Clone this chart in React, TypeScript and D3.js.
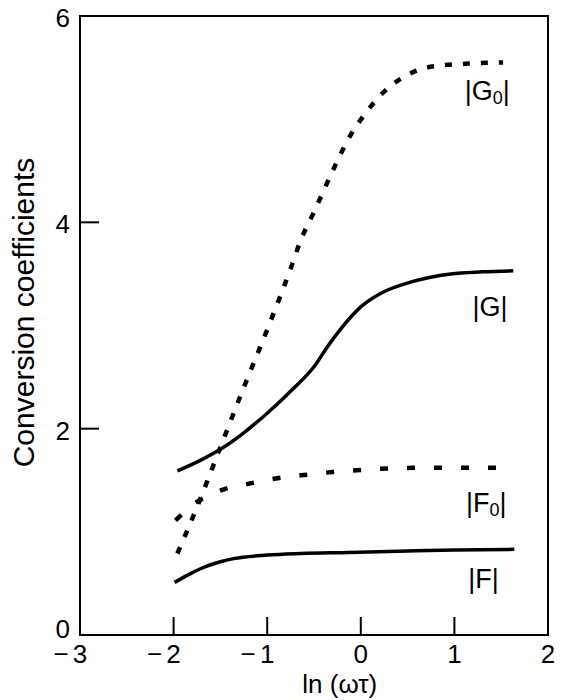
import React from 'react';
import * as d3 from 'd3';

const xF = [-1.99, -1.85, -1.72, -1.5, -1.36, -1.0, -0.64, -0.13, 0.5, 1.0, 1.64];
const yF = [0.51, 0.58, 0.64, 0.71, 0.74, 0.775, 0.79, 0.80, 0.815, 0.825, 0.83];

const xF0 = [-1.98, -1.75, -1.47, -1.18, -0.89, -0.61, -0.3, 0, 0.57, 1.0, 1.48];
const yF0 = [1.11, 1.29, 1.41, 1.47, 1.52, 1.55, 1.58, 1.6, 1.62, 1.62, 1.62];

const xG = [-1.96, -1.72, -1.5, -1.25, -1, -0.72, -0.5, -0.36, -0.22, 0, 0.21, 0.53, 0.96, 1.3, 1.63];
const yG = [1.59, 1.69, 1.8, 1.96, 2.15, 2.39, 2.6, 2.79, 2.96, 3.18, 3.31, 3.42, 3.5, 3.52, 3.53];

const xG0 = [-1.96, -1.75, -1.5, -1.25, -1.0, -0.75, -0.64, -0.5, -0.3, -0.1, 0.02, 0.16, 0.3, 0.46, 0.66, 0.85, 1.2, 1.52];
const yG0 = [0.79, 1.24, 1.82, 2.4, 2.96, 3.55, 3.83, 4.1, 4.5, 4.86, 5.02, 5.18, 5.31, 5.41, 5.49, 5.52, 5.54, 5.55];

const xTicks = [-3, -2, -1, 0, 1, 2];
const yTicks = [0, 2, 4, 6];

const curveLabels = [
  { name: 'G', sub: '0', x: 1.35, y: 5.28 },
  { name: 'G', sub: '', x: 1.38, y: 3.19 },
  { name: 'F', sub: '0', x: 1.34, y: 1.29 },
  { name: 'F', sub: '', x: 1.31, y: 0.55 },
];

const font = '"Liberation Sans", Arial, Helvetica, sans-serif';

const App = () => {
  const margin = { top: 16, right: 24, bottom: 65, left: 80 };
  const width = 572 - margin.left - margin.right;
  const height = 700 - margin.top - margin.bottom;

  const x = d3.scaleLinear().domain([-3, 2]).range([0, width]);
  const y = d3.scaleLinear().domain([0, 6]).range([height, 0]);

  const line = d3.line<[number, number]>()
    .x(d => x(d[0]))
    .y(d => y(d[1]))
    .curve(d3.curveMonotoneX);

  const pairs = (xs: number[], ys: number[]) => xs.map((v, i) => [v, ys[i]] as [number, number]);

  const series = [
    { d: pairs(xF, yF), dash: null, w: 3.5 },
    { d: pairs(xG, yG), dash: null, w: 3.5 },
    { d: pairs(xF0, yF0), dash: '8 19', w: 4.5 },
    { d: pairs(xG0, yG0), dash: '7 11', w: 4.5 },
  ];

  return (
    <svg width={572} height={700} style={{ position: 'absolute', left: 0, top: 0, background: '#fff' }}
      fontFamily={font}>
      <g transform={`translate(${margin.left},${margin.top})`}>
        <rect x={0} y={0} width={width} height={height} fill="none" stroke="#000" strokeWidth={2} />

        {xTicks.filter(t => t > -3 && t < 2).map(t => (
          <line key={'xt' + t} x1={x(t)} x2={x(t)} y1={height} y2={height - 18} stroke="#000" strokeWidth={2} />
        ))}
        {yTicks.filter(t => t > 0 && t < 6).map(t => (
          <line key={'yt' + t} x1={0} x2={19} y1={y(t)} y2={y(t)} stroke="#000" strokeWidth={2} />
        ))}

        {xTicks.map(t => (
          <g key={'xl' + t} fontSize={26}>
            <text x={x(t)} y={height + 28} textAnchor="middle">{Math.abs(t)}</text>
            {t < 0 && <text x={x(t) - 19} y={height + 28} textAnchor="middle">−</text>}
          </g>
        ))}
        {yTicks.map(t => (
          <text key={'yl' + t} x={-10} y={y(t) + (t === 0 ? 3 : 11)} textAnchor="end" fontSize={26}>{t}</text>
        ))}

        <text x={x(0) - 21} y={height + 58} textAnchor="middle" fontSize={26}>ln (ωτ)</text>
        <text transform={`translate(-46,${y(3) - 13}) rotate(-90)`} textAnchor="middle" fontSize={30}>
          Conversion coefficients
        </text>

        {series.map((s, i) => (
          <path key={i} d={line(s.d) || ''} fill="none" stroke="#000" strokeWidth={s.w}
            strokeDasharray={s.dash || undefined} strokeLinecap="butt" />
        ))}

        {curveLabels.map((l, i) => (
          <text key={'cl' + i} x={x(l.x)} y={y(l.y) + 10} textAnchor="middle" fontSize={27}>
            |{l.name}{l.sub && <tspan fontSize={18} dy={4}>{l.sub}</tspan>}
            {l.sub ? <tspan dy={-4}>|</tspan> : '|'}
          </text>
        ))}
      </g>
    </svg>
  );
};

export default App;
